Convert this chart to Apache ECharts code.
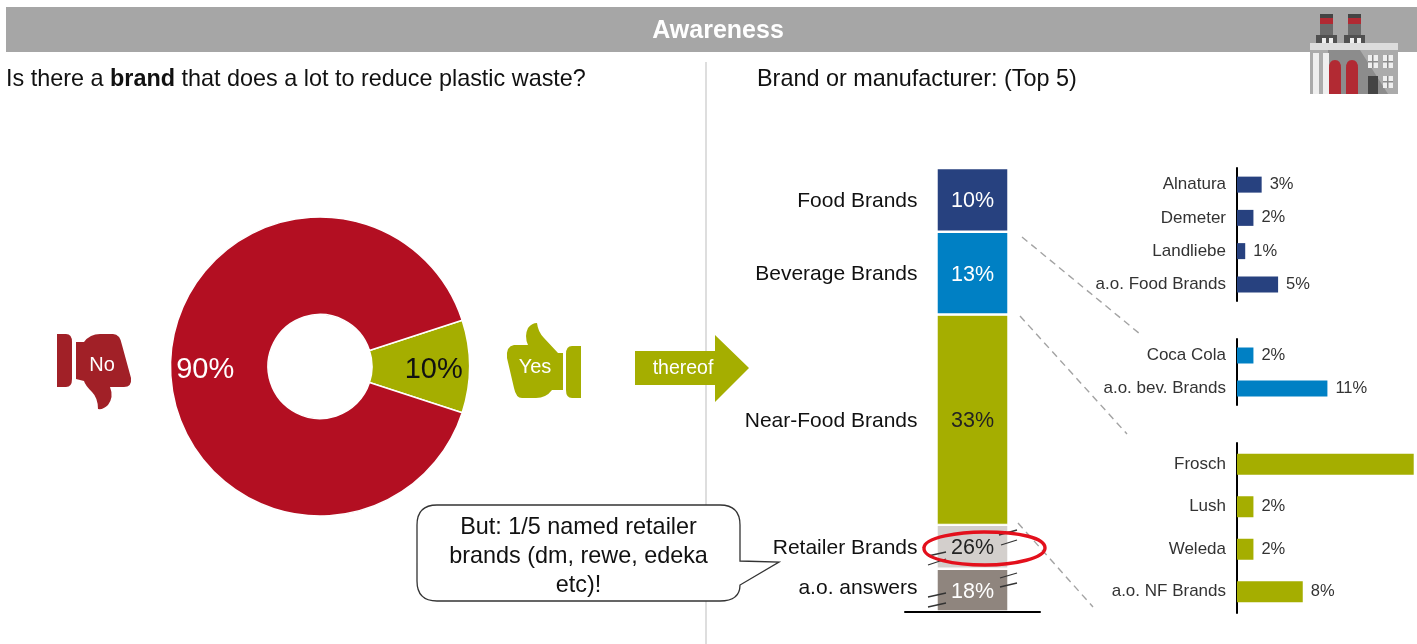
<!DOCTYPE html>
<html>
<head>
<meta charset="utf-8">
<style>
html,body{margin:0;padding:0;background:#fff}
#chart{width:1417px;height:644px}
</style>
<script src="https://cdn.jsdelivr.net/npm/echarts@6/dist/echarts.min.js"></script>
</head>
<body>
<div id="chart"></div>
<script>
var font = '"Liberation Sans", Arial, sans-serif';

// donut
var pieNames = ['Yes', 'No'];
var pieValues = [10, 90];
var pieColors = ['#A5AE00', '#B30F22'];

// stacked column, bottom to top
var stackNames = ['a.o. answers', 'Retailer Brands', 'Near-Food Brands', 'Beverage Brands', 'Food Brands'];
var stackValues = [18, 26, 33, 13, 10];
var stackColors = ['#8F857E', '#D3CFCC', '#A5AE00', '#0080C4', '#27417F'];
var stackLabelColors = ['#fff', '#222', '#222', '#fff', '#fff'];

// top 5 details
var foodNames = ['Alnatura', 'Demeter', 'Landliebe', 'a.o. Food Brands'];
var foodValues = [3, 2, 1, 5];
var bevNames = ['Coca Cola', 'a.o. bev. Brands'];
var bevValues = [2, 11];
var nearNames = ['Frosch', 'Lush', 'Weleda', 'a.o. NF Brands'];
var nearValues = [21.5, 2, 2, 8];

// outlines the graphic component has no shape for
var outlines = {
	cuffNo: 'M57 334 L66 334 Q72 334 72 342 L72 379 Q72 387 66 387 L57 387 Z',
	handNo: 'M76 342 L84 342 Q90 334 100 334 L113 334 Q120 334 122 345 L131 378 Q132 387 124 387 L110 387 Q114 397 108 405 Q103 410 98 409 Q98 398 92 392 Q85 385 84 381 L76 379 Z',
	cuffYes: 'M581 346 L572 346 Q566 346 566 354 L566 390 Q566 398 572 398 L581 398 Z',
	handYes: 'M563 390 L552 390 Q546 398 536 398 L522 398 Q516 398 514 388 L507 358 Q506 346 514 345 L528 345 Q524 336 528 328 Q532 323 537 323 Q538 332 544 338 L558 353 L563 353 Z',
	callout: 'M437 505 L720 505 Q740 505 740 525 L740 561 L779 562 L740 585 Q740 601 720 601 L437 601 Q417 601 417 581 L417 525 Q417 505 437 505 Z',
	tankA: 'M1329 94 L1329 68 Q1329 60 1335 60 Q1341 60 1341 68 L1341 94 Z',
	tankB: 'M1346 94 L1346 68 Q1346 60 1352 60 Q1358 60 1358 68 L1358 94 Z',
	redRing: 'M924 548 C924 537 960 532 984 532 C1020 532 1045 538 1045 548 C1045 558 1015 565 985 565 C955 565 923 559 924 548 Z'
};
Object.keys(outlines).forEach(function (key) {
	echarts.graphic.registerShape(key, echarts.graphic.extendPath(outlines[key], {}));
});

var myChart = echarts.init(document.getElementById('chart'));

var detailGrids = [
	{top: 168, height: 133},
	{top: 339, height: 66},
	{top: 443, height: 170}
];
var grid = [{left: 905, top: 168, width: 135, height: 443.5}];
var xAxis = [{
	type: 'category', gridIndex: 0, data: [''], z: 5,
	axisLine: {lineStyle: {color: '#000', width: 2}},
	axisTick: {show: false}, axisLabel: {show: false}
}];
var yAxis = [{
	type: 'value', gridIndex: 0, min: 0, max: 100,
	breaks: [
		{start: 3, end: 14.3, gap: 0},
		{start: 21, end: 40.1, gap: 0}
	],
	breakArea: {show: false},
	axisLine: {show: false}, axisTick: {show: false},
	axisLabel: {show: false}, splitLine: {show: false}
}];

var series = [{
	name: 'Awareness',
	type: 'pie',
	center: [320, 366.5],
	radius: [52, 149.5],
	startAngle: 18,
	animation: false,
	silent: true,
	itemStyle: {borderColor: '#fff', borderWidth: 1.5},
	labelLine: {show: false},
	label: {position: 'inside', fontFamily: font, fontSize: 29},
	data: [
		{name: pieNames[0], value: pieValues[0], itemStyle: {color: pieColors[0]},
			label: {formatter: '{c}%', color: '#111', offset: [10, 3]}},
		{name: pieNames[1], value: pieValues[1], itemStyle: {color: pieColors[1]},
			label: {formatter: '{c}%', color: '#fff', offset: [-11, 3]}}
	]
}];

for (var i = 0; i < stackValues.length; i++) {
	// visible segment with its share
	series.push({
		name: stackNames[i],
		type: 'bar',
		stack: 'shares',
		xAxisIndex: 0, yAxisIndex: 0,
		barWidth: 72,
		barGap: '-100%',
		animation: false,
		silent: true,
		data: [stackValues[i]],
		itemStyle: {color: stackColors[i], borderColor: '#fff', borderWidth: 1.2},
		label: {show: true, position: 'inside', offset: [0, 1.5], formatter: '{c}%', color: stackLabelColors[i], fontFamily: font, fontSize: 21.5},
		z: 3
	});
	// invisible twin, only carries the name on the left
	series.push({
		name: stackNames[i] + ' name',
		type: 'bar',
		stack: 'names',
		xAxisIndex: 0, yAxisIndex: 0,
		barWidth: 72,
		animation: false,
		silent: true,
		data: [stackValues[i]],
		itemStyle: {color: 'rgba(0,0,0,0)'},
		label: {show: true, position: 'left', distance: 19, offset: [0, i == 0 ? -2 : 1.5], formatter: stackNames[i], color: '#111', fontFamily: font, fontSize: 21},
		z: 2
	});
}

var details = [
	{names: foodNames, values: foodValues, color: '#27417F', barWidth: 16},
	{names: bevNames, values: bevValues, color: '#0080C4', barWidth: 16},
	{names: nearNames, values: nearValues, color: '#A5AE00', barWidth: 21}
];
details.forEach(function (d, k) {
	var idx = k + 1;
	grid.push({left: 1237, top: detailGrids[k].top, width: 180, height: detailGrids[k].height});
	xAxis.push({
		type: 'value', gridIndex: idx, min: 0, max: 21.9,
		axisLine: {show: false}, axisTick: {show: false},
		axisLabel: {show: false}, splitLine: {show: false}
	});
	yAxis.push({
		type: 'category', gridIndex: idx, data: d.names, inverse: true,
		axisLine: {lineStyle: {color: '#000', width: 2}},
		axisTick: {show: false},
		axisLabel: {color: '#333', fontFamily: font, fontSize: 17, margin: 11}
	});
	series.push({
		name: 'Top 5 ' + k,
		type: 'bar',
		xAxisIndex: idx, yAxisIndex: idx,
		barWidth: d.barWidth,
		animation: false,
		silent: true,
		itemStyle: {color: d.color},
		label: {show: true, position: 'right', distance: 8, formatter: '{c}%', color: '#333', fontFamily: font, fontSize: 16.5},
		data: d.values.map(function (v) {
			// the largest bar runs off the slide, its label is not visible
			return v > 20 ? {value: v, label: {show: false}} : v;
		})
	});
});

function dashed(x1, y1, x2, y2) {
	return {type: 'line', shape: {x1: x1, y1: y1, x2: x2, y2: y2}, style: {stroke: '#A3A3A3', lineWidth: 1.4, lineDash: [7, 5]}, z: 5};
}
function slash(x1, y1, x2, y2) {
	return {type: 'line', shape: {x1: x1, y1: y1, x2: x2, y2: y2}, style: {stroke: '#333', lineWidth: 1.3}, z: 6};
}
function box(x, y, w, h, color) {
	return {type: 'rect', shape: {x: x, y: y, width: w, height: h}, style: {fill: color}, z: 8};
}
function outline(name, style, z) {
	return {type: name, shape: {}, style: style, z: z || 4};
}
function centered(text, x, y, size, z) {
	return {type: 'text', x: x, y: y, style: {text: text, fill: '#fff', font: size + 'px ' + font, textAlign: 'center', textVerticalAlign: 'middle'}, z: z || 5};
}

var graphic = [
	// header and dividers
	box(6, 7, 1411, 45, '#A6A6A6'),
	{type: 'text', x: 718, y: 31, style: {text: 'Awareness', fill: '#fff', font: 'bold 25px ' + font, textAlign: 'center', textVerticalAlign: 'middle'}, z: 9},
	{type: 'line', shape: {x1: 706, y1: 62, x2: 706, y2: 644}, style: {stroke: '#C8C8C8', lineWidth: 1.2}},
	{type: 'text', x: 6, y: 80, style: {
		text: 'Is there a {b|brand} that does a lot to reduce plastic waste?',
		fill: '#111', font: '23.4px ' + font, textVerticalAlign: 'middle',
		rich: {b: {fontWeight: 'bold', fontSize: 23.4, fontFamily: font, fill: '#111'}}
	}},
	{type: 'text', x: 757, y: 80, style: {text: 'Brand or manufacturer: (Top 5)', fill: '#111', font: '23.4px ' + font, textVerticalAlign: 'middle'}},

	// thumbs
	outline('cuffNo', {fill: '#A12027'}),
	outline('handNo', {fill: '#A12027'}),
	centered('No', 102, 365, 20),
	outline('cuffYes', {fill: '#A5AE00'}),
	outline('handYes', {fill: '#A5AE00'}),
	centered('Yes', 535, 367, 20),

	// arrow
	{type: 'polygon', shape: {points: [[635, 351], [715, 351], [715, 335], [749, 368], [715, 402], [715, 385], [635, 385]]}, style: {fill: '#A5AE00'}},
	centered('thereof', 683, 369, 19.5),

	// connectors
	dashed(1022, 237, 1140, 334),
	dashed(1020, 316, 1127, 434),
	dashed(1018, 523, 1093, 607),

	// axis break marks
	slash(999, 535, 1017, 530), slash(1001, 545, 1017, 540),
	slash(928, 556, 946, 552), slash(928, 565, 946, 559),
	slash(1000, 578, 1017, 573), slash(1000, 587, 1017, 583),
	slash(928, 597, 946, 593), slash(928, 607, 946, 603),

	// red circle around retailers
	outline('redRing', {fill: 'none', stroke: '#E3101C', lineWidth: 3.4}, 7),

	// callout
	outline('callout', {fill: '#fff', stroke: '#333', lineWidth: 1.3}, 6),
	{type: 'text', x: 578.5, y: 557, style: {text: 'But: 1/5 named retailer\nbrands (dm, rewe, edeka\netc)!', fill: '#111', font: '23.4px ' + font, lineHeight: 29, textAlign: 'center', textVerticalAlign: 'middle'}, z: 7},

	// factory icon
	box(1320, 14, 13, 5, '#444'), box(1348, 14, 13, 5, '#444'),
	box(1320, 18, 13, 6, '#B22A33'), box(1348, 18, 13, 6, '#B22A33'),
	box(1320, 24, 13, 12, '#6B6B6B'), box(1348, 24, 13, 12, '#6B6B6B'),
	box(1316, 35, 21, 9, '#505050'), box(1344, 35, 21, 9, '#505050'),
	box(1322, 38, 4, 5, '#eee'), box(1329, 38, 4, 5, '#eee'), box(1350, 38, 4, 5, '#eee'), box(1357, 38, 4, 5, '#eee'),
	box(1310, 50, 88, 44, '#ABABAB'),
	box(1310, 43, 88, 7, '#DCDCDC'),
	{type: 'polygon', shape: {points: [[1328, 50], [1360, 50], [1388, 94], [1328, 94]]}, style: {fill: '#8C8C8C'}, z: 8},
	box(1313, 53, 6, 41, '#EFEFEF'), box(1323, 53, 6, 41, '#EFEFEF'),
	outline('tankA', {fill: '#B22A33'}, 9),
	outline('tankB', {fill: '#B22A33'}, 9),
	box(1368, 55, 10, 13, '#EFEFEF'), box(1383, 55, 10, 13, '#EFEFEF'), box(1383, 76, 10, 12, '#EFEFEF'),
	box(1372, 55, 1.5, 13, '#8C8C8C'), box(1387, 55, 1.5, 13, '#8C8C8C'), box(1387, 76, 1.5, 12, '#8C8C8C'),
	box(1368, 61, 10, 1.5, '#8C8C8C'), box(1383, 61, 10, 1.5, '#8C8C8C'), box(1383, 81, 10, 1.5, '#8C8C8C'),
	box(1368, 76, 10, 18, '#444')
];

option = null;
option = {
	backgroundColor: '#fff',
	animation: false,
	textStyle: {fontFamily: font},
	grid: grid,
	xAxis: xAxis,
	yAxis: yAxis,
	series: series,
	graphic: graphic
};

if (option && typeof option === "object") {
	myChart.setOption(option, true);
}
</script>
</body>
</html>
